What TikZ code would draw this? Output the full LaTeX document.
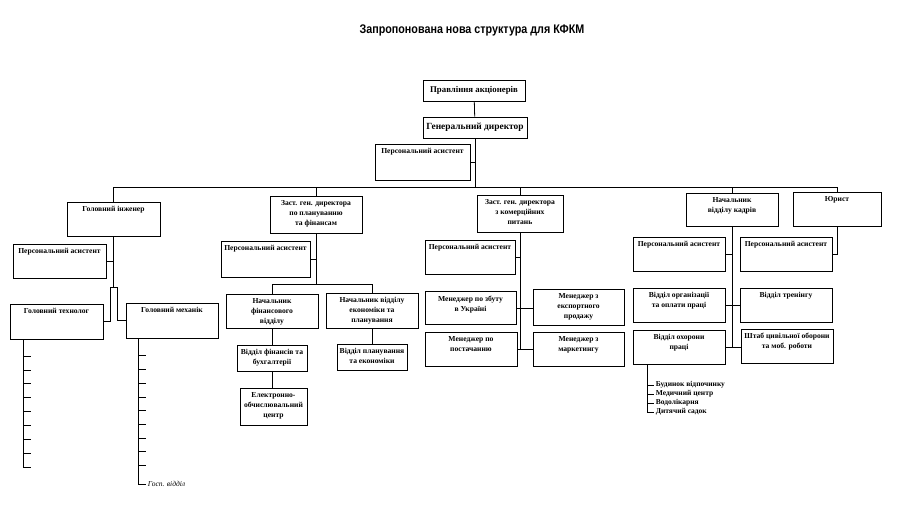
\documentclass[tikz,border=0pt]{standalone}
\usepackage{fontspec}
\setmainfont{Liberation Serif}
\newfontfamily\titlefont[FakeStretch=0.86]{Liberation Sans}
\newcommand\bx[5]{\node[box,minimum width=#3pt,minimum height=#4pt,top={#5}] (#1) at (#2) {};}
\begin{document}
\begin{tikzpicture}[x=1pt,y=-1pt,
  box/.style={draw, line width=0.9pt, inner sep=0pt},
  lbl/.style={font=\fontsize{7.6}{10}\selectfont\bfseries, align=center, inner sep=0pt},
  top/.style={label={[lbl,anchor=north,yshift=-4.5pt]north:{#1}}},
  ln/.style={line width=0.8pt},
  lsm/.style={font=\fontsize{7.5}{9}\selectfont\bfseries, inner sep=1.5pt, anchor=west}]
\useasboundingbox (0,0) rectangle (900,507);
\node[font=\titlefont\fontsize{12.5}{14}\selectfont\bfseries] (title) at (472,30) {Запропонована нова структура для КФКМ};

\node[box,minimum width=102pt,minimum height=21pt,font=\fontsize{8.8}{11}\selectfont\bfseries] (pr) at (474,90.5) {Правління акціонерів};
\node[box,minimum width=104pt,minimum height=21pt,font=\fontsize{9.4}{12}\selectfont\bfseries] (gd) at (475,127.5) {Генеральний директор};
\bx{pa0}{422.5,162}{95}{36}{Персональний асистент}

\bx{gi}{113.5,219}{93}{34}{Головний інженер}
\bx{zp}{316,214.5}{92}{37}{Заст. ген. директора\\по плануванню\\та фінансам}
\bx{zk}{520,213.5}{86}{37}{Заст. ген. директора\\з комерційних\\питань}
\bx{nk}{732,209.5}{92}{33}{Начальник\\відділу кадрів}
\bx{yu}{837,209}{88}{34}{Юрист}
\bx{pa1}{59.5,261}{93}{34}{Персональний асистент}
\bx{gt}{56.5,321.5}{93}{35}{Головний технолог}
\bx{gm}{172,320.5}{92}{35}{Головний механік}
\bx{pa2}{265.5,259}{89}{36}{Персональний асистент}
\bx{nf}{272,311}{92}{34}{Начальник\\фінансового\\відділу}
\bx{ne}{372,310.5}{92}{35}{Начальник відділу\\економіки та\\планування}
\bx{vf}{272,358}{70}{26}{Відділ фінансів та\\бухгалтерії}
\bx{ec}{273.5,406.5}{67}{37}{Електронно-\\обчислювальний\\центр}
\bx{vp}{372,357}{70}{26}{Відділ планування\\та економіки}
\bx{pa3}{470,257}{90}{34}{Персональний асистент}
\bx{mz}{470.5,308}{91}{33}{Менеджер по збуту\\в Україні}
\bx{me}{578.5,307.5}{91}{36}{Менеджер з\\експортного\\продажу}
\bx{mp}{471,349}{92}{34}{Менеджер по\\постачанню}
\bx{mm}{578.5,349}{91}{34}{Менеджер з\\маркетингу}
\bx{pa4}{679,254}{92}{34}{Персональний асистент}
\bx{vo}{679,305}{92}{34}{Відділ організації\\та оплати праці}
\bx{vt}{786,305}{92}{34}{Відділ тренінгу}
\bx{voh}{679,347}{92}{34}{Відділ охорони\\праці}
\bx{sh}{787,346}{92}{34}{Штаб цивільної оборони\\та моб. роботи}
\bx{pa5}{786,254}{92}{34}{Персональний асистент}

% top levels
\coordinate (busL) at (112,187);
\draw[ln] (pr) -- (gd);
\draw[ln] (gd.south) -- (gd.south |- busL);
\draw[ln] (pa0.east) -- (pa0.east -| gd.south);
\draw[ln] (gi.north) -- (gi.north |- busL) -- (yu.north |- busL) -- (yu.north);
\foreach \n in {zp,zk,nk} \draw[ln] (\n.north) -- (\n.north |- busL);

% chief engineer
\coordinate (f1) at (110,287);
\coordinate (f2) at (117,287);
\draw[ln] (gi.south) -- (gi.south |- f1);
\draw[ln] (gt.east) -- (gt.east -| f1) -- (f1) -- (f2) -- (f2 |- gm.west) -- (gm.west);
\draw[ln] (pa1.east) -- (pa1.east -| gi.south);
\coordinate (tgt) at (23,467);
\draw[ln] (gt.south -| tgt) -- (tgt) -- ++(8,0);
\foreach \y in {356,370,383,397,411,425,439,453} \draw[ln] (tgt |- 0,\y) -- ++(8,0);
\coordinate (tgm) at (138,484);
\draw[ln] (gm.south -| tgm) -- (tgm) -- ++(8,0) node[lsm,font=\fontsize{7.5}{9}\selectfont\itshape] (gosp) {Госп. відділ};
\foreach \y in {355,369,383,397,410,424,438,451,465} \draw[ln] (tgm |- 0,\y) -- ++(8,0);

% planning & finance
\coordinate (zb) at (316,284);
\draw[ln] (zp.south) -- (zb);
\draw[ln] (nf.north) -- (nf.north |- zb) -- (ne.north |- zb) -- (ne.north);
\draw[ln] (pa2.east) -- (pa2.east -| zp.south);
\draw[ln] (nf.south) -- (vf.north);
\draw[ln] (vf.south) -- (vf.south |- ec.north);
\draw[ln] (ne.south) -- (vp.north);

% commercial
\draw[ln] (zk.south) -- (zk.south |- mp.east);
\draw[ln] (pa3.east) -- (pa3.east -| zk.south);
\draw[ln] (mz.east) -- (mz.east -| me.west);
\draw[ln] (mp.east) -- (mm.west);

% HR
\draw[ln] (nk.south) -- (nk.south |- voh.east);
\draw[ln] (pa4.east) -- (pa4.east -| nk.south);
\draw[ln] (vo.east) -- (vt.west);
\draw[ln] (voh.east) -- (voh.east -| sh.west);
\draw[ln] (yu.south) -- (yu.south |- pa5.east) -- (pa5.east);

\coordinate (tv) at (647,412);
\draw[ln] (voh.south -| tv) -- (tv) -- ++(7,0) node[lsm] (l4) {Дитячий садок};
\draw[ln] (tv |- 0,385) -- ++(7,0) node[lsm] (l1) {Будинок відпочинку};
\draw[ln] (tv |- 0,394) -- ++(7,0) node[lsm] (l2) {Медичний центр};
\draw[ln] (tv |- 0,403) -- ++(7,0) node[lsm] (l3) {Водолікарня};
\end{tikzpicture}
\end{document}
